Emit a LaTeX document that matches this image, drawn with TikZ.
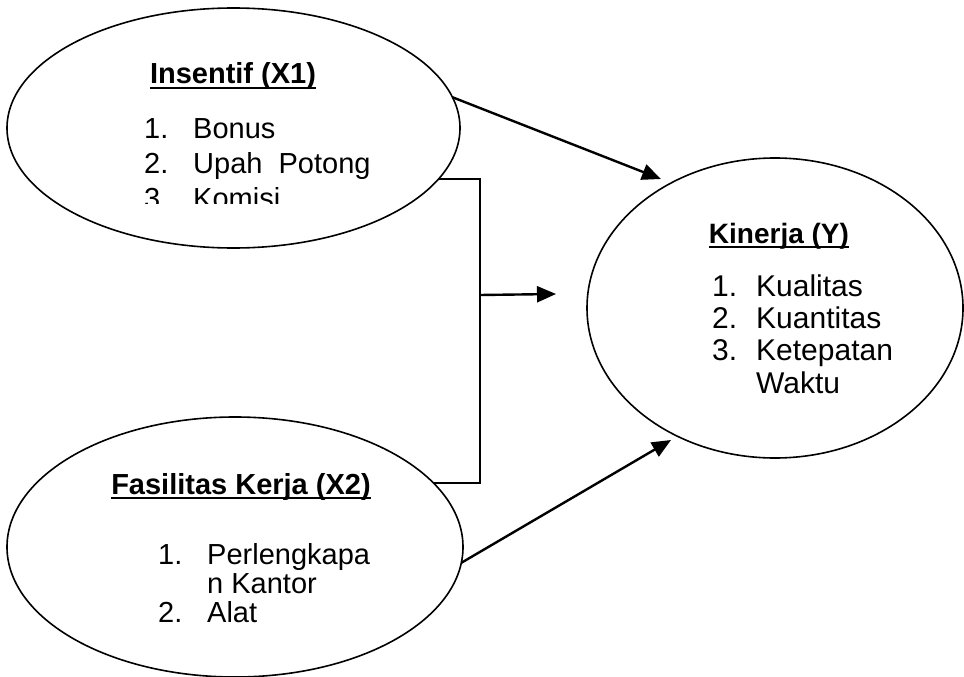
\documentclass[tikz,border=0pt]{standalone}
\usepackage{fontspec}
\setmainfont{Liberation Sans}
\usetikzlibrary{arrows.meta,shapes.geometric}
\newcommand\myul[1]{\setbox0\hbox{#1}\rlap{\rule[-4.5pt]{\wd0}{1.8pt}}\box0}
\begin{document}
\begin{tikzpicture}[x=1pt,y=-1pt,
  oval/.style={draw, ellipse, line width=1.6pt, inner sep=0pt, outer sep=0pt},
  head/.style={anchor=base, inner sep=0pt, font=\fontsize{29}{29}\selectfont\bfseries},
  headk/.style={anchor=base, inner sep=0pt, font=\fontsize{28}{28}\selectfont\bfseries},
  item/.style={anchor=base west, inner sep=0pt, font=\fontsize{29}{29}\selectfont},
  itemk/.style={anchor=base west, inner sep=0pt, font=\fontsize{30}{30}\selectfont},
  conn/.style={line width=2pt},
  arr/.style={line width=2.4pt, -{Triangle[length=19pt,width=16pt]}}]
\useasboundingbox (0,0) rectangle (964,677);
% ellipses
\node[oval, minimum width=453pt, minimum height=240pt] (x1) at (233.5,128) {};
\node[oval, minimum width=456pt, minimum height=260pt] (x2) at (235,547) {};
\node[oval, minimum width=376pt, minimum height=300pt] (y) at (775,308) {};
% Insentif text
\node[head] (x1h) at (233,84) {\myul{Insentif (X1)}};
\begin{scope}
\clip (0,0) rectangle (964,203);
\node[item] (x1n1) at (144,138) {1.};
\node[item] (x1t1) at (193,138) {Bonus};
\node[item] (x1n2) at (144,173) {2.};
\node[item] (x1t2) at (193,173) {Upah~~Potong};
\node[item] (x1n3) at (144,208) {3.};
\node[item] (x1t3) at (193,208) {Komisi};
\end{scope}
% Fasilitas text
\node[head] (x2h) at (241,494) {\myul{Fasilitas Kerja (X2)}};
\node[item] (x2n1) at (158,564) {1.};
\node[item] (x2t1) at (207,564) {Perlengkapa};
\node[item] (x2t1b) at (207,593) {n Kantor};
\node[item] (x2n2) at (158,622) {2.};
\node[item] (x2t2) at (207,622) {Alat};
% Kinerja text
\node[headk] (yh) at (779,243) {\myul{Kinerja (Y)}};
\node[itemk] (yn1) at (712,296) {1.};
\node[itemk] (yt1) at (756,296) {Kualitas};
\node[itemk] (yn2) at (712,328) {2.};
\node[itemk] (yt2) at (756,328) {Kuantitas};
\node[itemk] (yn3) at (712,360) {3.};
\node[itemk] (yt3) at (756,360) {Ketepatan};
\node[itemk] (yt3b) at (756,393) {Waktu};
% connectors
\coordinate (j) at (480,295);
\coordinate (t1) at (661,179);
\coordinate (t2) at (556,294);
\coordinate (t3) at (671,440);
\draw[arr] (x1.8) -- (t1);
\draw[conn] (x1.-14) -| (j) |- (x2.18);
\draw[arr] (j) -- (t2);
\draw[arr] (x2.-4.6) -- (t3);
\end{tikzpicture}
\end{document}
